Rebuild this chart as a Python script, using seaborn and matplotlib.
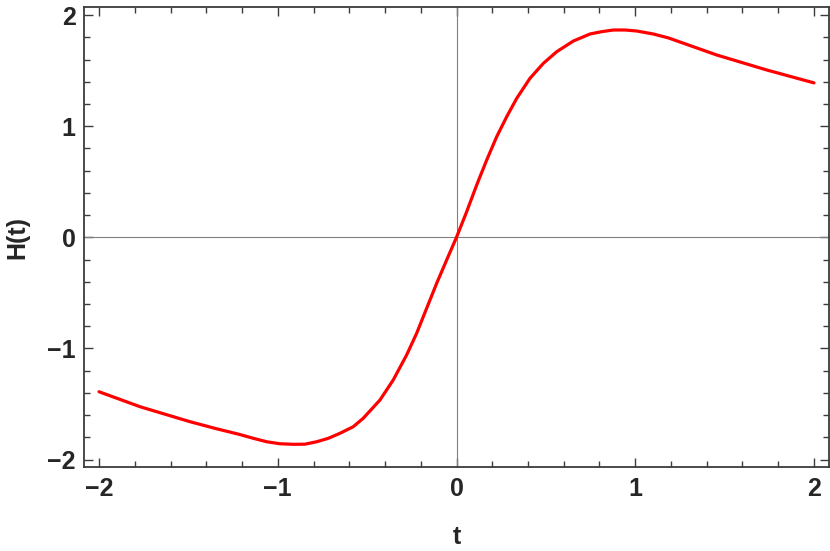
import numpy as np
import pandas as pd
import matplotlib
matplotlib.use("Agg")
import matplotlib.pyplot as plt
from matplotlib.ticker import MultipleLocator, FuncFormatter
import seaborn as sns

t_values = [-2.0, -1.77, -1.49, -1.35, -1.212, -1.137, -1.062, -0.988, -0.913, -0.848,
            -0.782, -0.717, -0.652, -0.578, -0.522, -0.428, -0.354, -0.279, -0.223,
            -0.167, -0.111, -0.055, 0.0, 0.057, 0.113, 0.169, 0.225, 0.281, 0.337,
            0.411, 0.486, 0.561, 0.654, 0.747, 0.812, 0.878, 0.943, 1.008, 1.101,
            1.185, 1.456, 1.736, 2.0]
h_values = [-1.39, -1.525, -1.66, -1.72, -1.775, -1.809, -1.84, -1.858, -1.863, -1.862,
            -1.84, -1.809, -1.764, -1.705, -1.629, -1.464, -1.284, -1.059, -0.864,
            -0.639, -0.414, -0.204, 0.0, 0.231, 0.471, 0.696, 0.906, 1.086, 1.251,
            1.431, 1.566, 1.671, 1.767, 1.83, 1.851, 1.866, 1.866, 1.857, 1.83,
            1.795, 1.641, 1.506, 1.39]

df = pd.DataFrame({"t": t_values, "H": h_values})

sns.set_style("white")
plt.rcParams["font.family"] = ["Liberation Sans", "DejaVu Sans"]

fig = plt.figure(figsize=(8.3, 5.51), dpi=100)
ax = fig.add_axes([84 / 830, 1 - 467.3 / 551, (829 - 84) / 830, (467.3 - 7) / 551])

ax.axhline(0, color="#808080", lw=0.8, zorder=1)
ax.axvline(0, color="#808080", lw=0.8, zorder=1)

sns.lineplot(data=df, x="t", y="H", ax=ax, color="red", lw=2.3, sort=False,
             estimator=None, zorder=3)

ax.set_xlim(-2.084, 2.084)
ax.set_ylim(-2.07, 2.073)

ax.xaxis.set_major_locator(MultipleLocator(1))
ax.xaxis.set_minor_locator(MultipleLocator(0.2))
ax.yaxis.set_major_locator(MultipleLocator(1))
ax.yaxis.set_minor_locator(MultipleLocator(0.2))


def fmt(v, p):
    v = int(round(v))
    return ("\u2212" + str(abs(v))) if v < 0 else str(v)


ax.xaxis.set_major_formatter(FuncFormatter(fmt))
ax.yaxis.set_major_formatter(FuncFormatter(fmt))

spine_color = "#3c3c3c"
for s in ax.spines.values():
    s.set_color(spine_color)
    s.set_linewidth(1.3)
    s.set_visible(True)

ax.tick_params(which="both", direction="in", top=True, right=True, bottom=True, left=True,
               color=spine_color, width=1.0)
ax.tick_params(axis="x", which="major", length=6.3, labelsize=18, pad=7)
ax.tick_params(axis="y", which="major", length=6.3, labelsize=18, pad=6)
ax.tick_params(which="minor", length=4.2)
for lab in ax.get_xticklabels() + ax.get_yticklabels():
    lab.set_fontweight("bold")

ax.set_xlabel("t", fontsize=18, fontweight="bold", labelpad=17)
ax.set_ylabel("H(t)", fontsize=18, fontweight="bold", labelpad=13)

fig.savefig("out.png", dpi=100)
